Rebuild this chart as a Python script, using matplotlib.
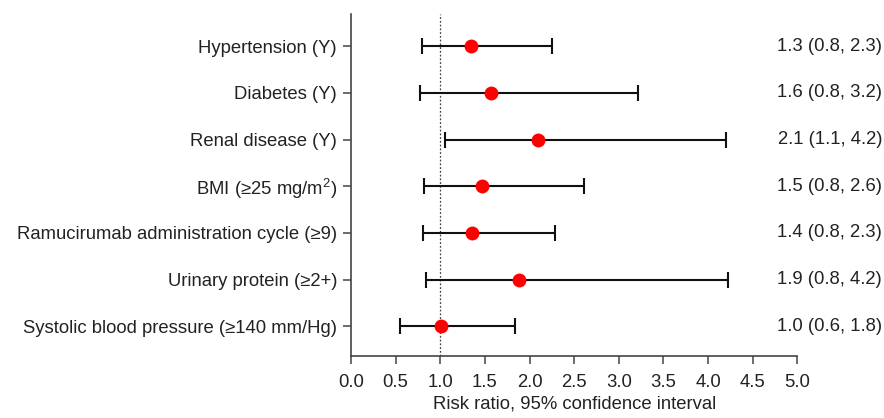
import matplotlib
matplotlib.use("Agg")
import matplotlib.pyplot as plt
import matplotlib.transforms as mtransforms

plt.rcParams['font.family'] = ['Liberation Sans', 'DejaVu Sans']
plt.rcParams['mathtext.fontset'] = 'custom'
plt.rcParams['mathtext.rm'] = 'Liberation Sans'
plt.rcParams['mathtext.it'] = 'Liberation Sans:italic'

# risk factors, top to bottom
labels = ['Hypertension (Y)', 'Diabetes (Y)', 'Renal disease (Y)',
          'BMI (≥25 mg/m$^{2}$)', 'Ramucirumab administration cycle (≥9)',
          'Urinary protein (≥2+)', 'Systolic blood pressure (≥140 mm/Hg)']
rr = [1.34, 1.57, 2.10, 1.47, 1.36, 1.88, 1.01]
ci_lo = [0.80, 0.77, 1.05, 0.82, 0.81, 0.84, 0.55]
ci_hi = [2.25, 3.22, 4.20, 2.61, 2.29, 4.22, 1.84]
rr_text = ['1.3 (0.8, 2.3)', '1.6 (0.8, 3.2)', '2.1 (1.1, 4.2)',
           '1.5 (0.8, 2.6)', '1.4 (0.8, 2.3)', '1.9 (0.8, 4.2)',
           '1.0 (0.6, 1.8)']
xticks = [0.0, 0.5, 1.0, 1.5, 2.0, 2.5, 3.0, 3.5, 4.0, 4.5, 5.0]

TXT = '#222222'
FS = 13.3
ypos = list(range(len(labels)))

fig = plt.figure(figsize=(8.84, 4.18), dpi=100)
ax = fig.add_axes([0.397, 0.148, 0.505, 0.8185])

ax.axvline(1.0, color='#444444', lw=0.9, ls=(0, (1.5, 1.5)), zorder=1)

err = [[r - l for r, l in zip(rr, ci_lo)], [h - r for r, h in zip(rr, ci_hi)]]
ax.errorbar(rr, ypos, xerr=err, fmt='none', ecolor='#111111', elinewidth=1.5,
            capsize=6, capthick=1.5, zorder=2)
ax.plot(rr, ypos, 'o', color='#ff0000', ms=10, mec='none', zorder=3)

ax.set_xlim(0, 5.0)
ax.set_ylim(6.64, -0.69)
ax.set_xticks(xticks)
ax.set_xticklabels(['%.1f' % t for t in xticks])
ax.set_yticks(ypos)
ax.set_yticklabels(labels)

for s in ['top', 'right']:
    ax.spines[s].set_visible(False)
for s in ['left', 'bottom']:
    ax.spines[s].set_color('#444444')
    ax.spines[s].set_linewidth(1.2)

ax.tick_params(axis='both', colors='#444444', labelcolor=TXT, labelsize=FS,
               length=6, width=1.1)
ax.tick_params(axis='y', pad=4)
ax.tick_params(axis='x', pad=7)
ax.set_xlabel('Risk ratio, 95% confidence interval', fontsize=FS, color=TXT,
              labelpad=3)

trans = mtransforms.blended_transform_factory(fig.transFigure, ax.transData)
for y, t in zip(ypos, rr_text):
    ax.text(0.998, y, t, transform=trans, ha='right', va='center',
            fontsize=FS, color=TXT, clip_on=False)

fig.savefig('out.png', dpi=100)
